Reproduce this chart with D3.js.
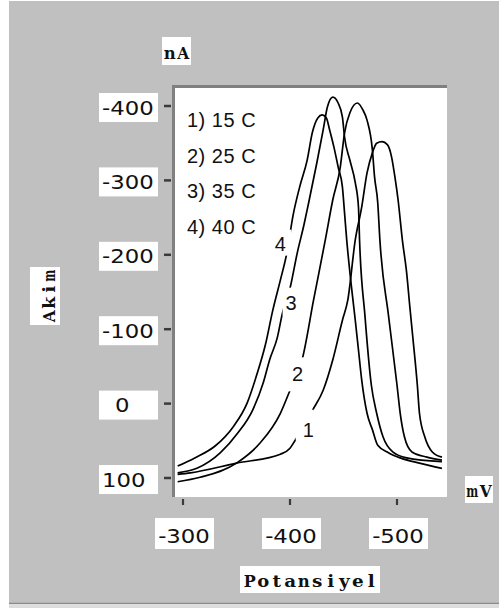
<!DOCTYPE html>
<html>
<head>
<meta charset="utf-8">
<script src="https://cdn.jsdelivr.net/npm/d3@7"></script>
<style>
  html, body { margin: 0; padding: 0; background: #ffffff; }
  svg { display: block; }
</style>
</head>
<body>
<script>
// Voltammograms: current (nA) versus potential (mV) at four temperatures.
const yTicks = [-400, -300, -200, -100, 0, 100];
const yTickLabels = ["-400", "-300", "-200", "-100", "0", "100"];
const xTicks = [-300, -400, -500];
const xTickLabels = ["-300", "-400", "-500"];

const legendLabels = ["1) 15 C", "2) 25 C", "3) 35 C", "4) 40 C"];
const curveNames = ["1", "2", "3", "4"];

// [potential mV, current nA]
const curve15 = [[-295,95],[-307,93],[-350,80],[-391,68],[-400,60],[-405,49],[-421,9],[-431,-18],[-440,-59],[-449,-112],[-454,-139],[-461,-220],[-467,-264],[-472,-310],[-477,-337],[-481,-350],[-486,-352],[-491,-348],[-495,-331],[-498,-305],[-501,-274],[-505,-220],[-509,-176],[-512,-130],[-515,-86],[-519,-25],[-521,13],[-526,45],[-533,65],[-542,72]];
const curve25 = [[-295,105],[-316,99],[-350,80],[-372,53],[-391,13],[-400,-18],[-412,-63],[-422,-139],[-433,-220],[-440,-274],[-447,-318],[-451,-364],[-456,-391],[-463,-404],[-468,-395],[-472,-381],[-477,-341],[-479,-305],[-482,-270],[-484,-220],[-492,-119],[-500,-25],[-503,13],[-507,45],[-514,65],[-528,72],[-542,76]];
const curve35 = [[-295,93],[-313,87],[-335,66],[-351,40],[-365,9],[-375,-28],[-381,-59],[-388,-88],[-393,-122],[-400,-155],[-407,-204],[-413,-240],[-417,-267],[-425,-323],[-431,-368],[-435,-399],[-440,-412],[-445,-404],[-449,-385],[-451,-358],[-456,-327],[-461,-297],[-464,-264],[-465,-220],[-470,-119],[-476,-25],[-481,13],[-487,45],[-496,65],[-509,73],[-542,78]];
const curve40 = [[-295,84],[-311,73],[-330,57],[-347,31],[-360,-1],[-369,-39],[-377,-79],[-384,-126],[-391,-166],[-397,-202],[-403,-254],[-409,-291],[-416,-327],[-421,-365],[-426,-384],[-430,-388],[-434,-384],[-437,-368],[-441,-345],[-445,-318],[-449,-291],[-451,-256],[-453,-220],[-456,-176],[-461,-112],[-464,-72],[-467,-32],[-472,13],[-477,35],[-482,56],[-492,66],[-503,73],[-521,80],[-542,87]];

// where each curve number sits, in data units [mV, nA]
const curveLabelAt = [[-417, 35], [-407, -40], [-401, -135], [-391, -215]];

const curves = [curve15, curve25, curve35, curve40];

const W = 499, H = 608;
const plot = { left: 175, right: 447, top: 88, bottom: 497 };

const x = d3.scaleLinear().domain([-300, -500]).range([183, 397]);
const y = d3.scaleLinear().domain([-400, 100]).range([106, 478]);

const svg = d3.select("body").append("svg")
  .attr("width", W).attr("height", H);

// window background
svg.append("rect").attr("x", 0).attr("y", 0).attr("width", W).attr("height", H).attr("fill", "#ffffff");
svg.append("rect").attr("x", 9).attr("y", 1).attr("width", W - 9).attr("height", 602).attr("fill", "#c0c0c0");
svg.append("line").attr("x1", 9).attr("x2", W).attr("y1", 603.5).attr("y2", 603.5)
  .attr("stroke", "#8a8a8a").attr("stroke-width", 1.5);
svg.append("rect").attr("x", 9).attr("y", 604.5).attr("width", W - 9).attr("height", 4).attr("fill", "#dcdcdc");

// sunken plot panel
svg.append("rect").attr("x", plot.left).attr("y", plot.top)
  .attr("width", plot.right - plot.left).attr("height", plot.bottom - plot.top)
  .attr("fill", "#ffffff");
svg.append("rect").attr("x", plot.left - 3).attr("y", plot.top - 3)
  .attr("width", plot.right - plot.left + 3).attr("height", 3).attr("fill", "#808080");
svg.append("rect").attr("x", plot.left - 3).attr("y", plot.top - 3)
  .attr("width", 3).attr("height", plot.bottom - plot.top + 3).attr("fill", "#808080");

const tickFont = "'DejaVu Sans', 'Liberation Sans', sans-serif";
const titleFont = "'DejaVu Serif', 'Liberation Serif', serif";
const sansFont = "'Liberation Sans', Arial, sans-serif";
const tickStretch = 1.2;   // wide bitmap-style digits
const titleCell = 13.5;    // fixed character cell for the typewriter-style titles
const titleStretch = 1.15;

// y axis: ticks and boxed labels
const yAxis = svg.append("g");
yTicks.forEach((v, i) => {
  const py = y(v);
  yAxis.append("line").attr("x1", 164).attr("x2", 171).attr("y1", py).attr("y2", py)
    .attr("stroke", "#3a3a3a").attr("stroke-width", 2.5);
  yAxis.append("rect").attr("x", 99).attr("y", py - 13).attr("width", 59).attr("height", 29)
    .attr("fill", "#ffffff");
  const lab = yTickLabels[i];
  yAxis.append("text")
    .attr("transform", `translate(102,${py + 8.5}) scale(${tickStretch},1)`)
    .attr("dx", lab.length < 2 ? 10.8 : 0)
    .attr("font-family", tickFont).attr("font-size", 19)
    .attr("fill", "#111").text(lab);
});

// x axis: ticks and boxed labels
const xAxis = svg.append("g");
xTicks.forEach((v, i) => {
  const px = x(v);
  xAxis.append("line").attr("x1", px).attr("x2", px).attr("y1", 499).attr("y2", 505)
    .attr("stroke", "#3a3a3a").attr("stroke-width", 2.2);
  xAxis.append("rect").attr("x", px - 28).attr("y", 518).attr("width", 59).attr("height", 31)
    .attr("fill", "#ffffff");
  xAxis.append("text")
    .attr("transform", `translate(${px + 1},543) scale(${tickStretch},1)`)
    .attr("text-anchor", "middle")
    .attr("font-family", tickFont).attr("font-size", 19)
    .attr("fill", "#111").text(xTickLabels[i]);
});

// axis titles and units, each glyph centred in a fixed-width cell
function boxedTitle(txt, bx, by, bw, bh, tx, ty, rotate) {
  svg.append("rect").attr("x", bx).attr("y", by).attr("width", bw).attr("height", bh).attr("fill", "#ffffff");
  const chars = Array.from(txt);
  const start = -titleCell * chars.length / 2 + titleCell / 2;
  const g = svg.append("g")
    .attr("transform", rotate ? `translate(${tx},${ty}) rotate(-90)` : `translate(${tx},${ty})`);
  chars.forEach((ch, k) => {
    const t = g.append("text")
      .attr("text-anchor", "middle")
      .attr("font-family", titleFont).attr("font-size", 16).attr("font-weight", "bold")
      .attr("fill", "#111").text(ch);
    // widen narrow glyphs, squeeze wide ones so every glyph stays inside its cell
    const wGlyph = t.node().getComputedTextLength() || 1;
    const sx = Math.min(titleStretch, (titleCell - 1.5) / wGlyph);
    t.attr("transform", `translate(${start + k * titleCell},0) scale(${sx},1)`);
  });
}
boxedTitle("nA", 162, 37, 29, 28, 176.5, 59, false);
boxedTitle("mV", 465, 476, 28, 27, 479, 497, false);
boxedTitle("Potansiyel", 240, 566, 140, 27, 310.5, 587, false);
boxedTitle("Akim", 30, 267, 30, 58, 55, 296, true);

// curves
svg.append("clipPath").attr("id", "plotClip").append("rect")
  .attr("x", plot.left).attr("y", plot.top)
  .attr("width", plot.right - plot.left).attr("height", plot.bottom - plot.top);

const line = d3.line()
  .x(d => x(d[0])).y(d => y(d[1]))
  .curve(d3.curveMonotoneX);

const curveG = svg.append("g").attr("clip-path", "url(#plotClip)");
curves.forEach(c => {
  curveG.append("path").attr("d", line(c))
    .attr("fill", "none").attr("stroke", "#000").attr("stroke-width", 1.7)
    .attr("stroke-linejoin", "round");
});

// curve numbers, each set on a white patch that breaks its line
const labelPatch = [
  { dx: -3.5, dy: -4.5, w: 18, h: 31 },
  { dx: -0.5, dy: 0.5, w: 18, h: 34 },
  { dx: -0.5, dy: -1.5, w: 16, h: 28 },
  { dx: 2, dy: -1, w: 18, h: 26 }
];
const labelG = svg.append("g");
curveLabelAt.forEach((p, i) => {
  const cx = x(p[0]), cy = y(p[1]);
  const pt = labelPatch[i];
  labelG.append("rect").attr("x", cx + pt.dx - pt.w / 2).attr("y", cy + pt.dy - pt.h / 2)
    .attr("width", pt.w).attr("height", pt.h).attr("fill", "#ffffff");
  labelG.append("text").attr("x", cx).attr("y", cy + 7).attr("text-anchor", "middle")
    .attr("font-family", sansFont).attr("font-size", 20).attr("fill", "#111")
    .text(curveNames[i]);
});

// legend
const legend = svg.append("g");
legendLabels.forEach((t, i) => {
  legend.append("text").attr("x", 187).attr("y", 127 + i * 35.7)
    .attr("font-family", sansFont).attr("font-size", 20).attr("letter-spacing", 0.5)
    .attr("fill", "#111").text(t);
});
</script>
</body>
</html>
